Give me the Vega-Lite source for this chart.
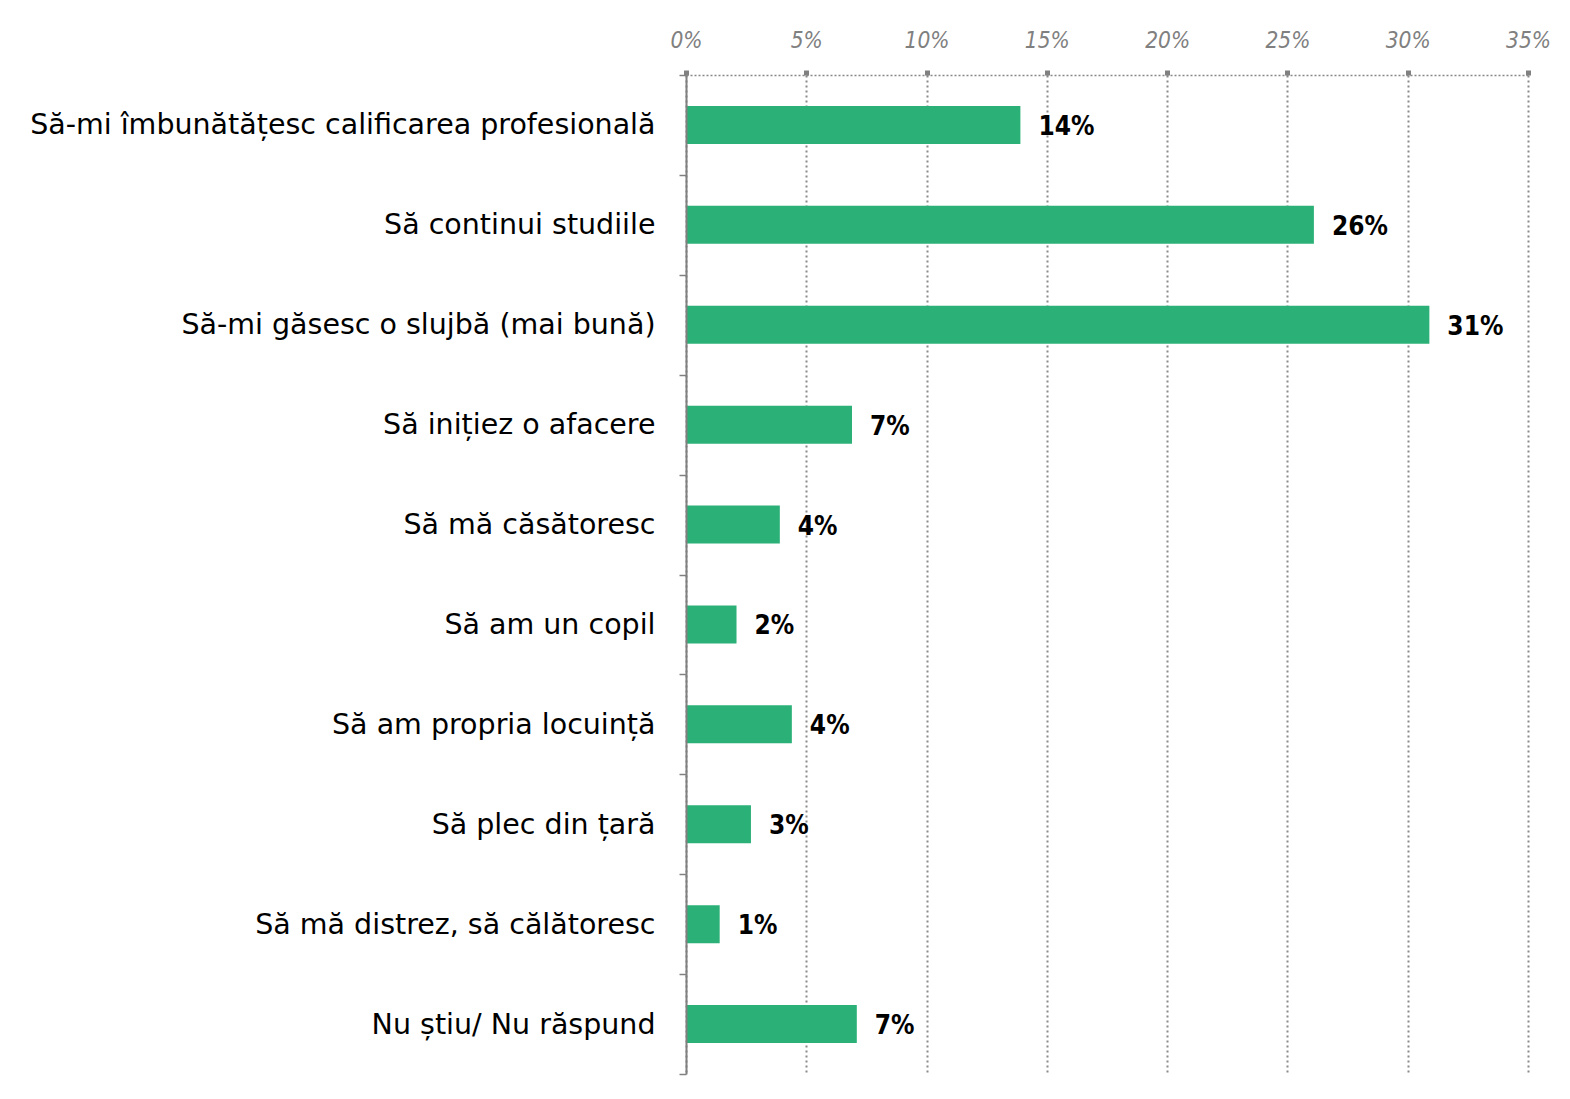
{
  "$schema": "https://vega.github.io/schema/vega-lite/v6.json",
  "width": 842,
  "height": 999,
  "autosize": "none",
  "padding": {"left": 686, "top": 75, "right": 42, "bottom": 25},
  "background": "white",
  "config": {"view": {"stroke": null}},
  "data": {"values": [
    {"cat": "Să-mi îmbunătățesc calificarea profesională", "v": 0.139},
    {"cat": "Să continui studiile", "v": 0.261},
    {"cat": "Să-mi găsesc o slujbă (mai bună)", "v": 0.309},
    {"cat": "Să inițiez o afacere", "v": 0.069},
    {"cat": "Să mă căsătoresc", "v": 0.039},
    {"cat": "Să am un copil", "v": 0.021},
    {"cat": "Să am propria locuință", "v": 0.044},
    {"cat": "Să plec din țară", "v": 0.027},
    {"cat": "Să mă distrez, să călătoresc", "v": 0.014},
    {"cat": "Nu știu/ Nu răspund", "v": 0.071}
  ]},
  "encoding": {
    "y": {"field": "cat", "type": "nominal", "sort": null,
      "scale": {"paddingInner": 0, "paddingOuter": 0},
      "axis": {"title": null, "zindex": 2, "domainColor": "#808080", "domainWidth": 2, "tickColor": "#808080", "tickWidth": 1.5, "tickSize": 7, "tickBand": "extent", "labelPadding": 24, "labelFont": "DejaVu Sans", "labelFontSize": 28.5, "labelColor": "#000000", "labelLimit": 700, "grid": false}},
    "x": {"field": "v", "type": "quantitative",
      "scale": {"domain": [0, 0.35], "nice": false},
      "axis": {"orient": "top", "title": null, "format": ".0%", "values": [0, 0.05, 0.1, 0.15, 0.2, 0.25, 0.3, 0.35], "labelFlush": false, "labelFont": "DejaVu Sans Condensed, DejaVu Sans", "labelFontSize": 22.5, "labelFontStyle": "italic", "labelColor": "#808080", "labelPadding": 18, "domainColor": "#888888", "domainDash": [2, 2], "domainWidth": 1.5, "tickColor": "#808080", "tickSize": 5, "tickWidth": 5, "grid": true, "gridColor": "#8a8a8a", "gridDash": [2, 3], "gridWidth": 2}}
  },
  "layer": [
    {"mark": {"type": "bar", "color": "#2BB077", "height": {"band": 0.38}}},
    {"mark": {"type": "text", "align": "left", "baseline": "middle", "dx": 18, "dy": 2, "font": "DejaVu Sans Condensed, DejaVu Sans", "fontSize": 26, "fontWeight": "bold", "color": "#000000"},
      "encoding": {"text": {"field": "v", "type": "quantitative", "format": ".0%"}}}
  ]
}
